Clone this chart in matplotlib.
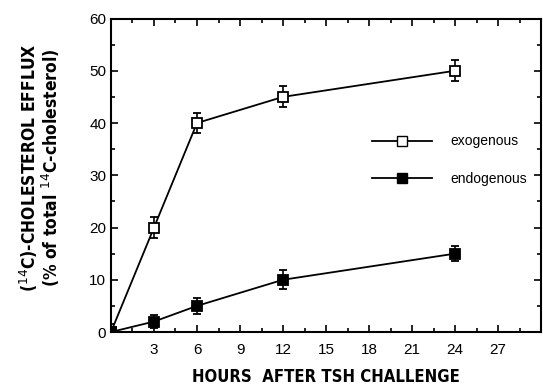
import matplotlib
matplotlib.use("Agg")
import matplotlib.pyplot as plt
from matplotlib.ticker import MultipleLocator
from matplotlib.lines import Line2D

# hours after TSH challenge
hours = [0, 3, 6, 12, 24]
exogenous = [0, 20, 40, 45, 50]
exogenous_err = [1.5, 2, 2, 2, 2]
endogenous = [0, 2, 5, 10, 15]
endogenous_err = [0.5, 1.2, 1.5, 1.8, 1.5]

plt.rcParams['font.family'] = ['Liberation Sans', 'DejaVu Sans']

fig = plt.figure(figsize=(5.43, 3.88), dpi=100)
ax = fig.add_axes([0.2044, 0.1443, 0.792, 0.808])

ax.errorbar(hours, exogenous, yerr=exogenous_err, color='black', lw=1.3,
            marker='s', ms=7, mfc='white', mec='black', mew=1.3,
            capsize=3, elinewidth=1.2, capthick=1.2, zorder=3)
ax.errorbar(hours, endogenous, yerr=endogenous_err, color='black', lw=1.3,
            marker='s', ms=6.5, mfc='black', mec='black', mew=1.3,
            capsize=3, elinewidth=1.2, capthick=1.2, zorder=3)

ax.set_xlim(0, 30)
ax.set_ylim(0, 60)
ax.xaxis.set_major_locator(MultipleLocator(3))
ax.xaxis.set_minor_locator(MultipleLocator(1.5))
ax.yaxis.set_major_locator(MultipleLocator(10))
ax.yaxis.set_minor_locator(MultipleLocator(5))
ax.set_xticks([3, 6, 9, 12, 15, 18, 21, 24, 27])
ax.tick_params(which='both', direction='in', top=True, right=True,
               width=1.2, labelsize=11)
ax.tick_params(which='major', length=5)
ax.tick_params(which='minor', length=3)
ax.tick_params(axis='x', pad=8)
for s in ax.spines.values():
    s.set_linewidth(1.5)

ax.set_xlabel('HOURS  AFTER TSH CHALLENGE', fontsize=12, fontweight='bold',
              family='DejaVu Sans', fontstretch='condensed', labelpad=8)
fig.text(0.073, 0.568, '($^{14}$C)-CHOLESTEROL EFFLUX\n(% of total $^{14}$C-cholesterol)',
         rotation=90, ha='center', va='center', fontsize=12.5,
         family='DejaVu Sans', fontstretch='condensed',
         fontweight='bold', linespacing=1.0)

handles = [
    Line2D([], [], color='black', lw=1.3, marker='s', ms=7, mfc='white', mec='black'),
    Line2D([], [], color='black', lw=1.3, marker='s', ms=7, mfc='black', mec='black'),
]
ax.legend(handles, ['exogenous', 'endogenous'], loc='upper left',
          bbox_to_anchor=(0.579, 0.67), frameon=False, fontsize=10,
          handlelength=4.3, labelspacing=1.7, handletextpad=1.3)

fig.savefig('out.png', dpi=100)
